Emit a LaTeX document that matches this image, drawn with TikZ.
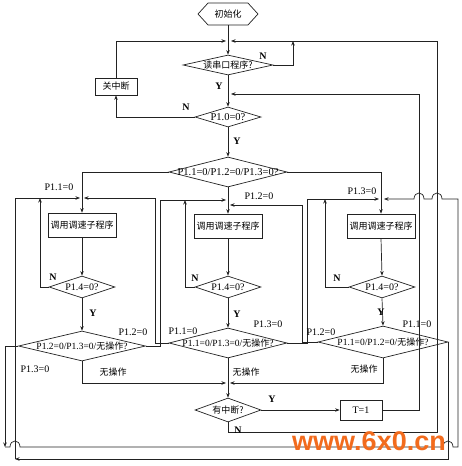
\documentclass[tikz,border=0pt]{standalone}
\usepackage{fontspec}
\setmainfont{Liberation Serif}
\newfontfamily\cjk{Noto Sans CJK SC}
\newfontfamily\wmfont{Liberation Sans}
\usetikzlibrary{shapes.geometric,shapes.symbols,arrows.meta}
\definecolor{wmorange}{HTML}{F26B1D}
\definecolor{ink}{HTML}{222222}
\begin{document}
\begin{tikzpicture}[x=1pt,y=-1pt,
  line/.style={line width=0.7pt, draw=ink},
  arr/.style={line, -{Stealth[length=4.5pt,width=3.5pt]}},
  box/.style={draw=ink, line width=0.7pt, inner sep=0pt, font=\cjk\fontsize{9}{10}\selectfont},
  dia/.style={diamond, draw=ink, line width=0.7pt, inner sep=0pt},
  dtxt/.style={inner sep=0pt, font=\fontsize{10}{12}\selectfont},
  lab/.style={inner sep=0pt, font=\fontsize{10}{12}\selectfont},
  yn/.style={inner sep=0pt, font=\bfseries\fontsize{10}{12}\selectfont},
  cjkt/.style={inner sep=0pt, font=\cjk\fontsize{9}{10}\selectfont},
]
\useasboundingbox[fill=white] (0,0) rectangle (462,466);

% ---------- nodes ----------
\node[signal, signal to=west and east, signal pointer angle=95, draw=ink, line width=0.7pt,
      minimum width=60pt, minimum height=22pt, inner sep=0pt,
      font=\cjk\fontsize{9}{10}\selectfont] (init) at (228,14) {初始化};
\node[dia, minimum width=90pt, minimum height=20pt] (read) at (228,65) {};
\node[cjkt] (readt) at (read) {读串口程序?};
\node[box, minimum width=42pt, minimum height=17pt] (guan) at (116,86.5) {关中断};
\node[dia, minimum width=66pt, minimum height=20pt] (p10) at (228,117) {};
\node[dtxt, font=\fontsize{10.5}{12}\selectfont] (p10t) at (p10) {P1.0=0?};
\node[dia, minimum width=118pt, minimum height=30pt] (big) at (228,172) {};
\node[dtxt, font=\fontsize{10.5}{12}\selectfont] (bigt) at (big) {P1.1=0/P1.2=0/P1.3=0?};

\node[box, minimum width=68pt, minimum height=24pt] (b1) at (82,225) {调用调速子程序};
\node[box, minimum width=68pt, minimum height=24pt] (b2) at (228,226) {调用调速子程序};
\node[box, minimum width=68pt, minimum height=24pt] (b3) at (381,226) {调用调速子程序};

\node[dia, minimum width=66pt, minimum height=22pt] (q1) at (82,287) {};
\node[dtxt] (q1t) at (q1) {P1.4=0?};
\node[dia, minimum width=66pt, minimum height=22pt] (q2) at (228,287) {};
\node[dtxt] (q2t) at (q2) {P1.4=0?};
\node[dia, minimum width=66pt, minimum height=22pt] (q3) at (382,287) {};
\node[dtxt] (q3t) at (q3) {P1.4=0?};

\node[dia, minimum width=127pt, minimum height=30pt] (d1) at (82,346) {};
\node[dtxt, font=\fontsize{9.5}{12}\selectfont] (d1t) at (d1) {P1.2=0/P1.3=0/{\cjk\fontsize{9}{10}\selectfont 无操作}?};
\node[dia, minimum width=118pt, minimum height=30pt] (d2) at (228,343) {};
\node[dtxt, font=\fontsize{9.5}{12}\selectfont] (d2t) at (d2) {P1.1=0/P1.3=0/{\cjk\fontsize{9}{10}\selectfont 无操作}?};
\node[dia, minimum width=130pt, minimum height=32pt] (d3) at (383,342) {};
\node[dtxt, font=\fontsize{9.5}{12}\selectfont] (d3t) at (d3) {P1.1=0/P1.2=0/{\cjk\fontsize{9}{10}\selectfont 无操作}?};

\node[dia, minimum width=66pt, minimum height=24pt] (intr) at (228,410) {};
\node[cjkt] (intrt) at (intr) {有中断?};
\node[box, font=\fontsize{10}{12}\selectfont, minimum width=42pt, minimum height=20pt] (t1) at (361,410) {T=1};

% ---------- coordinates ----------
\coordinate (j0L) at (226,41);  \coordinate (j0R) at (231,41);
\coordinate (rn)  at (293,41);
\coordinate (jm1) at (231,94);
\coordinate (J1L) at (80,198);  \coordinate (J1R) at (84,198);
\coordinate (J2L) at (226,200); \coordinate (J2R) at (230,205);
\coordinate (J3L) at (379,199); \coordinate (J3R) at (384,199);
\coordinate (n1) at (40,198); \coordinate (n2) at (185,200); \coordinate (n3) at (325,199);
\coordinate (k1) at (160,200); \coordinate (k2) at (155,198);
\coordinate (k3) at (307,199); \coordinate (k4) at (302,205);
\coordinate (k5) at (5,447);   \coordinate (k6) at (458,447); \coordinate (k7) at (458,199);
\coordinate (k9) at (15,459);
\coordinate (k10) at (419,94);
\coordinate (k11) at (437,432); \coordinate (k12) at (437,41);
\coordinate (J4L) at (226,383); \coordinate (J4R) at (230,383);

% ---------- connectors ----------
\draw[arr] (init.south) -- (read.north);
\draw[arr] (read.east) -| (rn);
\draw[arr] (read.south) -- (p10.north);
\draw[arr] (p10.west) -| (guan.south);
\draw[arr] (guan.north) |- (j0L);
\draw[arr] (p10.south) -- (big.north);
\draw[arr] (big.west) -| (b1.north);
\draw[arr] (big.east) -| (b3.north);
\draw[arr] (big.south) -- (b2.north);

\draw[arr] (b1.south) -- (q1.north);
\draw[arr] (b2.south) -- (q2.north);
\draw[arr] (b3.south) -- (q3.north);
\draw[arr] (q1.west) -| (n1);
\draw[arr] (q2.west) -| (n2);
\draw[arr] (q3.west) -| (n3);
\draw[arr] (q1.south) -- (d1.north);
\draw[arr] (q2.south) -- (d2.north);
\draw[arr] (q3.south) -- (d3.north);

% cross connections between columns
\draw[arr] (d1.east) -| (k1) -- (J2L);
\draw[arr] (d2.west) -| (k2) -- (J1R);
\draw[arr] (d2.east) -| (k3) -- (J3L);
\draw[arr] (d3.west) -| (k4) -- (J2R);

% outer loops
\draw[arr] (d1.west) -| (k5);
\draw[arr] (k5) -- (10,447) .. controls (10,439) and (20,439) .. (20,447)
     -- (443,447) .. controls (443,439) and (453,439) .. (453,447) -- (k6) -- (k7)
     -- (442,199) .. controls (442,191) and (432,191) .. (432,199)
     -- (424,199) .. controls (424,191) and (414,191) .. (414,199) -- (J3R);
\draw[arr] (d3.east) |- (k9);
\draw[arr] (k9) |- (J1L);

% no-operation merges
\draw[arr] (d1.south) |- (J4L);
\draw[arr] (d3.south) |- (J4R);
\draw[arr] (d2.south) -- (intr.north);

% interrupt part
\draw[arr] (intr.east) -- (t1.west);
\draw[arr] (t1.east) -| (k10) -- (jm1);
\draw[arr] (intr.south) |- (k11) -- (k12) -- (j0R);

% ---------- labels ----------
\node[yn] (lN1) at (263,56) {N};
\node[yn] (lY1) at (219,86) {Y};
\node[yn] (lN2) at (186,107) {N};
\node[yn] (lY2) at (237,141) {Y};
\node[lab] (l11) at (59,187) {P1.1=0};
\node[lab] (l12) at (259,196) {P1.2=0};
\node[lab] (l13) at (362,191) {P1.3=0};
\node[yn] (qn1) at (53,277) {N};
\node[yn] (qn2) at (195,278) {N};
\node[yn] (qn3) at (337,278) {N};
\node[yn] (qy1) at (93,313) {Y};
\node[yn] (qy2) at (237,314) {Y};
\node[yn] (qy3) at (381,312) {Y};
\node[lab] (a1) at (133,332) {P1.2=0};
\node[lab] (a2) at (35,369) {P1.3=0};
\node[cjkt] (a3) at (113,372) {无操作};
\node[lab] (b1l) at (183,331) {P1.1=0};
\node[lab] (b2l) at (268,324) {P1.3=0};
\node[cjkt] (b3l) at (246,372) {无操作};
\node[lab] (c1l) at (321,332) {P1.2=0};
\node[lab] (c2l) at (417,324) {P1.1=0};
\node[cjkt] (c3l) at (364,369) {无操作};
\node[yn] (iy) at (272,399) {Y};
\node[yn] (in) at (238,430) {N};

% watermark
\node[inner sep=0pt, text=wmorange, font=\wmfont\bfseries\fontsize{27}{27}\selectfont] (wm) at (369,441) {www.6x0.cn};
\end{tikzpicture}
\end{document}
